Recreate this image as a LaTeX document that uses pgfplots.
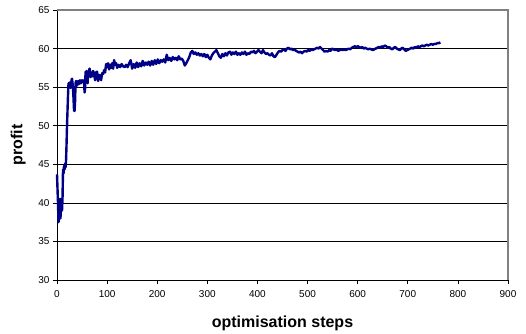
\documentclass[border=0pt]{standalone}
\usepackage{fontspec}
\setmainfont{Liberation Sans}
\usepackage{pgfplots}
\pgfplotsset{compat=1.18}
\definecolor{navyline}{RGB}{0,0,135}
\begin{document}
\begin{tikzpicture}[x=1pt,y=1pt]
\useasboundingbox (-57,-53) rectangle (469,280);
\begin{axis}[
  anchor=south west, at={(0,0)},
  scale only axis, width=451pt, height=270pt,
  xmin=0, xmax=900, ymin=30, ymax=65,
  xtick={0,100,...,900}, ytick={30,35,...,65},
  axis lines*=left, axis line style={-, black, line width=0.8pt},
  tick align=outside, major tick length=4pt,
  tick style={black, line width=0.6pt},
  ymajorgrids, grid style={black, line width=0.6pt},
  tick label style={font=\fontsize{10}{12}\selectfont},
  xticklabel style={yshift=-3pt},
  /pgf/number format/assume math mode=true,
  xlabel={\bfseries optimisation steps},
  ylabel={\bfseries profit},
  label style={font=\fontsize{16}{18}\selectfont},
  xlabel style={at={(axis description cs:0.5,0)}, anchor=center, yshift=-43pt},
  ylabel style={at={(axis description cs:-0.086,0.5)}, anchor=center},
  clip=false,
]
\draw[gray, line width=1.5pt] (rel axis cs:0,1) -- (rel axis cs:1,1) -- (rel axis cs:1,0);
\addplot[navyline, line width=2.4pt, line join=round] coordinates {
(0,43.7)(2,40)(3,37.5)(5,38.5)(6,40.5)(7,38)(8,40.5)(9,39.2)(10,39)(11,40.5)(12,44.3)(13,43.8)(14,44.8)(15,44.3)(16,45.1)(17,44.6)(18,45.4)(19,47.5)(20,50)(21,52)(22,54)(23,55.5)(24,55.3)(25,55.6)(26,55.1)(27,54.9)(28,55.3)(29,55.9)(30,56.1)(31,55.5)(32,54.8)(33,53.5)(34,52)(35,51.9)(36,53)(37,55.5)(38,55.8)(40,55.2)(42,55.8)(44,55.4)(46,55.9)(48,55.5)(50,55.9)(52,55.7)(54,55.9)(55,54.3)(56,54.8)(57,57)(58,56.6)(59,57.1)(61,55.5)(62,56.6)(64,57.2)(65,57.4)(67,56.3)(69,56.9)(71,56.4)(72,57.1)(74,56.8)(76,55.9)(78,56.9)(80,57.0)(82,55.8)(84,56.6)(86,56.4)(88,55.9)(90,56.8)(92,56.7)(94,57.2)(96,56.9)(98,58)(100,57.6)(102,58.1)(104,57.3)(106,57.9)(108,57.5)(110,58.1)(112,57.4)(114,58.5)(116,57.9)(118,58.1)(120,57.5)(123,57.9)(126,57.6)(129,58.0)(132,57.7)(135,57.6)(138,57.9)(141,57.6)(144,58.1)(147,58.5)(150,57.4)(153,58.0)(156,57.5)(159,58.2)(162,57.6)(165,58.1)(168,57.7)(171,58.4)(174,57.8)(177,58.2)(180,57.9)(183,58.3)(186,57.8)(189,58.4)(192,57.9)(195,58.5)(198,58.0)(201,58.6)(204,58.1)(207,58.5)(210,58.3)(213,58.6)(216,58.2)(219,59.2)(222,58.5)(225,58.8)(228,58.4)(231,58.9)(234,58.6)(237,58.8)(240,58.5)(243,59.0)(246,58.6)(249,58.7)(252,58.4)(255,57.8)(258,58.1)(261,58.5)(264,58.9)(267,59.5)(270,59.7)(273,59.3)(276,59.5)(279,59.2)(282,59.4)(285,59.1)(288,59.3)(291,59.0)(294,59.3)(297,58.9)(300,59.2)(303,58.8)(306,58.6)(309,59.1)(312,59.4)(315,59.6)(318,59.8)(321,59.4)(324,59.0)(327,58.8)(330,59.3)(333,59.0)(336,59.4)(339,59.1)(342,59.5)(345,59.6)(348,59.2)(351,59.5)(354,59.3)(357,59.6)(360,59.2)(363,59.4)(366,59.2)(369,59.5)(372,59.3)(375,59.6)(378,59.2)(381,59.4)(384,59.3)(387,59.6)(390,59.5)(393,59.7)(396,59.4)(399,59.6)(402,59.8)(405,59.6)(408,59.4)(411,59.8)(414,59.5)(417,59.3)(420,59.4)(423,59.2)(426,59.1)(429,59.4)(432,59.0)(435,58.9)(438,59.2)(441,59.5)(444,59.7)(447,59.6)(450,59.8)(453,59.9)(456,59.7)(459,60.0)(462,60.1)(465,59.9)(468,60.0)(471,59.8)(474,59.9)(477,59.7)(480,59.6)(483,59.5)(486,59.6)(489,59.4)(492,59.6)(495,59.7)(498,59.6)(501,59.8)(504,59.7)(507,59.9)(510,59.8)(513,59.9)(516,60.0)(519,60.1)(522,60.0)(525,60.2)(528,60.0)(531,59.8)(534,59.6)(537,59.7)(540,59.6)(543,59.8)(546,59.7)(549,60.0)(552,59.9)(555,59.8)(558,59.9)(561,59.7)(564,59.8)(567,59.9)(570,59.8)(573,59.9)(576,59.8)(579,59.9)(582,60.0)(585,59.9)(588,60.1)(591,60.2)(594,60.3)(597,60.2)(600,60.3)(603,60.2)(606,60.1)(609,60.2)(612,60.0)(615,60.1)(618,60.0)(621,59.9)(624,60.0)(627,59.9)(630,59.8)(633,59.9)(636,60.0)(639,60.1)(642,60.2)(645,60.1)(648,60.3)(651,60.2)(654,60.4)(657,60.3)(660,60.1)(663,60.2)(666,60.0)(669,59.9)(672,60.1)(675,60.2)(678,60.0)(681,59.9)(684,59.8)(687,60.0)(690,60.1)(693,59.9)(696,59.7)(699,59.8)(702,59.9)(705,60.0)(708,60.1)(711,60.0)(714,60.2)(717,60.1)(720,60.3)(723,60.2)(726,60.3)(729,60.4)(732,60.3)(735,60.4)(738,60.5)(741,60.4)(744,60.5)(747,60.6)(750,60.5)(753,60.6)(756,60.6)(759,60.7)(762,60.7)(765,60.8)
};
\end{axis}
\end{tikzpicture}
\end{document}
